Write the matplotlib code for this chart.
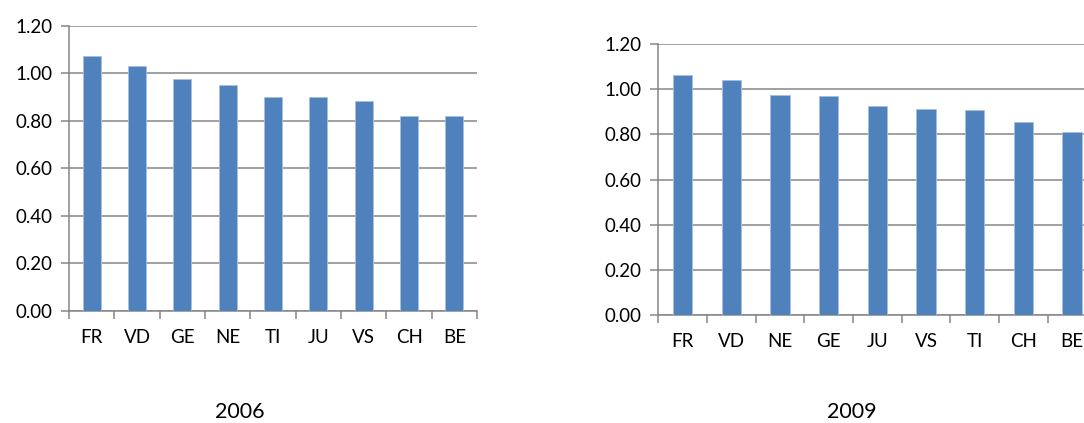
import matplotlib
matplotlib.use("Agg")
import matplotlib.pyplot as plt
import numpy as np

plt.rcParams["font.family"] = ["Lato", "DejaVu Sans"]

# 2006 panel
cats_2006 = ["FR", "VD", "GE", "NE", "TI", "JU", "VS", "CH", "BE"]
vals_2006 = [1.074, 1.029, 0.977, 0.951, 0.901, 0.899, 0.882, 0.820, 0.820]

# 2009 panel
cats_2009 = ["FR", "VD", "NE", "GE", "JU", "VS", "TI", "CH", "BE"]
vals_2009 = [1.063, 1.039, 0.973, 0.969, 0.926, 0.911, 0.909, 0.855, 0.811]

yticks = [0.0, 0.2, 0.4, 0.6, 0.8, 1.0, 1.2]

BAR = "#4F81BD"
GRID = "#868686"


def draw_panel(ax, cats, vals):
    x = np.arange(len(cats))
    ax.bar(x, vals, width=0.4, color=BAR, edgecolor="#A7C0DE", linewidth=0.6, zorder=3)
    ax.set_xlim(-0.5, len(cats) - 0.5)
    ax.set_ylim(0, 1.2)
    ax.set_yticks(yticks)
    ax.set_yticklabels([f"{v:.2f}" for v in yticks])
    ax.yaxis.grid(True, color=GRID, linewidth=1.1, zorder=0)
    ax.set_axisbelow(True)

    # boundary tick marks on the category axis, labels centred on the bars
    ax.set_xticks(np.arange(-0.5, len(cats), 1.0))
    ax.set_xticklabels([])
    ax.set_xticks(x, minor=True)
    ax.set_xticklabels(cats, minor=True)
    ax.tick_params(axis="x", which="major", length=6, width=1.1, color=GRID, direction="out")
    ax.tick_params(axis="x", which="minor", length=0, pad=13, labelsize=13.5)
    ax.tick_params(axis="y", length=6, width=1.1, color=GRID, pad=6, labelsize=13.5)

    for s in ["top", "right"]:
        ax.spines[s].set_visible(False)
    for s in ["left", "bottom"]:
        ax.spines[s].set_color(GRID)
        ax.spines[s].set_linewidth(1.1)


fig = plt.figure(figsize=(10.84, 4.23), dpi=100)

ax1 = fig.add_axes([0.0637, 0.2648, 0.3764, 0.6744])
draw_panel(ax1, cats_2006, vals_2006)

ax2 = fig.add_axes([0.6073, 0.2546, 0.4041, 0.6414])
draw_panel(ax2, cats_2009, vals_2009)

fig.text(0.2214, 0.025, "2006", ha="center", va="center", fontsize=15.5)
fig.text(0.786, 0.025, "2009", ha="center", va="center", fontsize=15.5)

fig.savefig("out.png", dpi=100)
